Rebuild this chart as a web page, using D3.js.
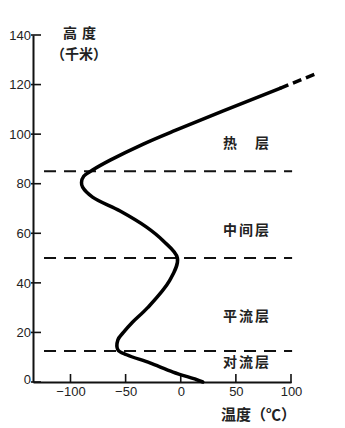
<!DOCTYPE html>
<html>
<head>
<meta charset="utf-8">
<script src="https://cdn.jsdelivr.net/npm/d3@7"></script>
<style>
  body { margin: 0; background: #fff; }
  svg { display: block; }
  .tick text { font-family: "Liberation Sans", Arial, sans-serif; font-size: 13px; fill: #222; }
  .cjk { font-family: "Noto Sans CJK SC", sans-serif; font-weight: 600; fill: #222; }
</style>
</head>
<body>
<div id="chart"></div>
<script>
// temperature (°C) vs altitude (km) profile
const temps =     [20, 14, -7, -28, -49, -57, -57, -52, -44, -30, -10, -3, -16, -31, -55, -80, -89, -90, -88, -80, -64, -34, -5, 90];
const altitudes = [0, 1, 4, 7.7, 11, 13, 17, 20, 24, 30, 41, 50, 57, 62.5, 69, 74.6, 78.6, 80.5, 83, 85.5, 89.5, 96, 101.5, 118.5];
// dashed extrapolation at the top
const extTemps = [90, 124];
const extAltitudes = [118.5, 124.6];

const boundaries = [12.5, 50, 85];
const layerNames = ["对流层", "平流层", "中间层", "热　层"];
const layerLabelAlt = [7.5, 26, 61, 96];

const xTicks = [-100, -50, 0, 50, 100];
const yTicks = [0, 20, 40, 60, 80, 100, 120, 140];

const W = 345, H = 428;

const x = d3.scaleLinear().domain([-134, 100]).range([33, 291]);
const y = d3.scaleLinear().domain([0, 140]).range([382, 35]);

const svg = d3.select("#chart").append("svg")
    .attr("width", W)
    .attr("height", H);

// axes
const yAxis = d3.axisLeft(y)
    .tickValues(yTicks)
    .tickSize(0)
    .tickPadding(2)
    .tickFormat(d3.format("d"));

svg.append("g")
    .attr("transform", `translate(${x(-134)},0)`)
    .call(yAxis)
    .call(g => g.select(".domain").attr("stroke", "#111").attr("stroke-width", 2))
    .call(g => g.selectAll(".tick text").filter(d => d === 0).attr("dy", "0.1em"));

const xAxis = d3.axisBottom(x)
    .tickValues(xTicks)
    .tickSize(0)
    .tickPadding(5)
    .tickFormat(d => d < 0 ? "\u2212" + Math.abs(d) : d);

svg.append("g")
    .attr("transform", `translate(0,${y(0)})`)
    .call(xAxis)
    .call(g => g.select(".domain").attr("stroke", "#111").attr("stroke-width", 2));

// tick marks drawn inward
svg.selectAll(".ytick")
    .data(yTicks)
    .enter()
    .append("line")
    .attr("x1", x(-134) - 2)
    .attr("x2", x(-134) + 8)
    .attr("y1", d => y(d))
    .attr("y2", d => y(d))
    .attr("stroke", "#111")
    .attr("stroke-width", 1.6);

svg.selectAll(".xtick")
    .data(xTicks)
    .enter()
    .append("line")
    .attr("x1", d => x(d))
    .attr("x2", d => x(d))
    .attr("y1", y(0) + 1)
    .attr("y2", y(0) - 8)
    .attr("stroke", "#111")
    .attr("stroke-width", 1.6);

// layer boundaries
svg.selectAll(".boundary")
    .data(boundaries)
    .enter()
    .append("line")
    .attr("class", "boundary")
    .attr("x1", x(-124))
    .attr("x2", x(101))
    .attr("y1", d => y(d))
    .attr("y2", d => y(d))
    .attr("stroke", "#111")
    .attr("stroke-width", 2)
    .attr("stroke-dasharray", "12,8");

// temperature profile
const profile = temps.map((t, i) => [t, altitudes[i]]);
const line = d3.line()
    .x(d => x(d[0]))
    .y(d => y(d[1]))
    .curve(d3.curveCatmullRom.alpha(0.5));

svg.append("path")
    .datum(profile)
    .attr("d", line)
    .attr("fill", "none")
    .attr("stroke", "#000")
    .attr("stroke-width", 3.5)
    .attr("stroke-linecap", "round");

svg.append("path")
    .datum(extTemps.map((t, i) => [t, extAltitudes[i]]))
    .attr("d", d3.line().x(d => x(d[0])).y(d => y(d[1])))
    .attr("fill", "none")
    .attr("stroke", "#000")
    .attr("stroke-width", 3.5)
    .attr("stroke-dasharray", "9,5");

// layer names
svg.selectAll(".layer")
    .data(layerNames)
    .enter()
    .append("text")
    .attr("class", "cjk layer")
    .attr("x", x(60))
    .attr("y", (d, i) => y(layerLabelAlt[i]))
    .attr("text-anchor", "middle")
    .attr("dominant-baseline", "middle")
    .attr("font-size", 14)
    .attr("letter-spacing", 2)
    .text(d => d);

// axis titles
svg.append("text")
    .attr("class", "cjk")
    .attr("x", 82)
    .attr("y", 38)
    .attr("text-anchor", "middle")
    .attr("font-size", 14)
    .attr("letter-spacing", 5)
    .text("高度");

svg.append("text")
    .attr("class", "cjk")
    .attr("x", 79)
    .attr("y", 59)
    .attr("text-anchor", "middle")
    .attr("font-size", 14)
    .text("（千米）");

svg.append("text")
    .attr("class", "cjk")
    .attr("x", 221)
    .attr("y", 420)
    .attr("font-size", 15)
    .text("温度（℃）");
</script>
</body>
</html>
